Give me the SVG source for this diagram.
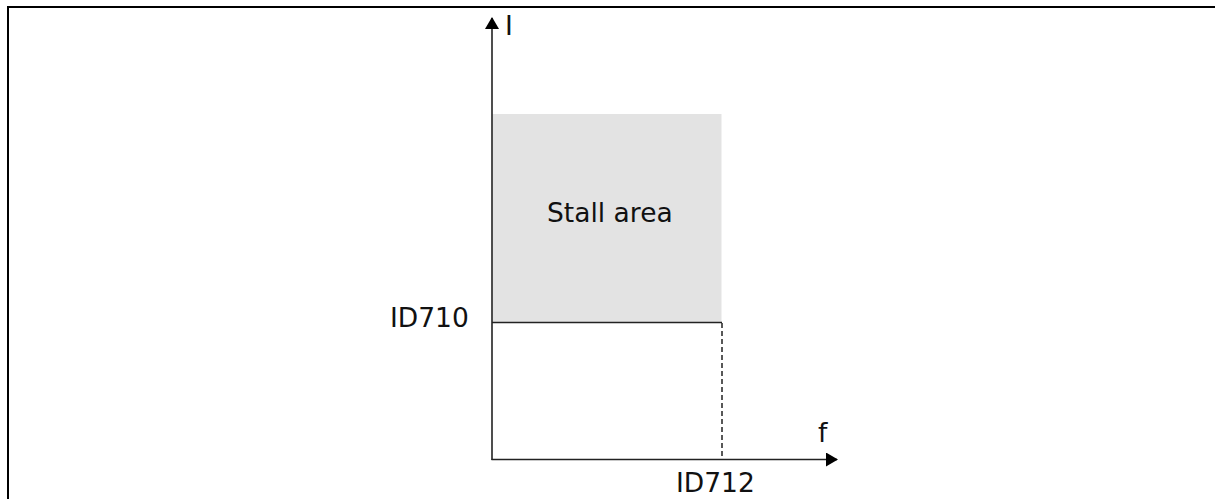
<svg xmlns="http://www.w3.org/2000/svg" width="1215" height="499" viewBox="0 0 1215 499">
<style>
text{font-family:"DejaVu Sans",Verdana,sans-serif;font-size:26.5px;fill:#111}
.ax{stroke:#222;stroke-width:1.6;fill:none}
</style>
<defs>
<marker id="ah" viewBox="0 0 12 14" refX="11" refY="7" markerWidth="12" markerHeight="14" markerUnits="userSpaceOnUse" orient="auto">
<path d="M0,0 L12,7 L0,14 Z" fill="#000"/>
</marker>
</defs>
<path d="M8,499 V7 H1215" fill="none" stroke="#000" stroke-width="2"/>
<g id="stall-area">
<rect x="492.5" y="114" width="229" height="208.5" fill="#e3e3e3"/>
<text x="547" y="222">Stall area</text>
</g>
<g id="connectors">
<line class="ax" x1="492" y1="460" x2="492" y2="18" marker-end="url(#ah)"/>
<line class="ax" x1="491.5" y1="459.5" x2="837" y2="459.5" marker-end="url(#ah)"/>
<line class="ax" x1="492" y1="322.5" x2="722" y2="322.5"/>
<line x1="722" y1="323" x2="722" y2="460" stroke="#222" stroke-width="1.5" stroke-dasharray="5,3"/>
</g>
<g id="labels">
<text x="505" y="35">I</text>
<text x="818" y="442">f</text>
<text x="390" y="327">ID710</text>
<text x="676" y="492">ID712</text>
</g>
</svg>
